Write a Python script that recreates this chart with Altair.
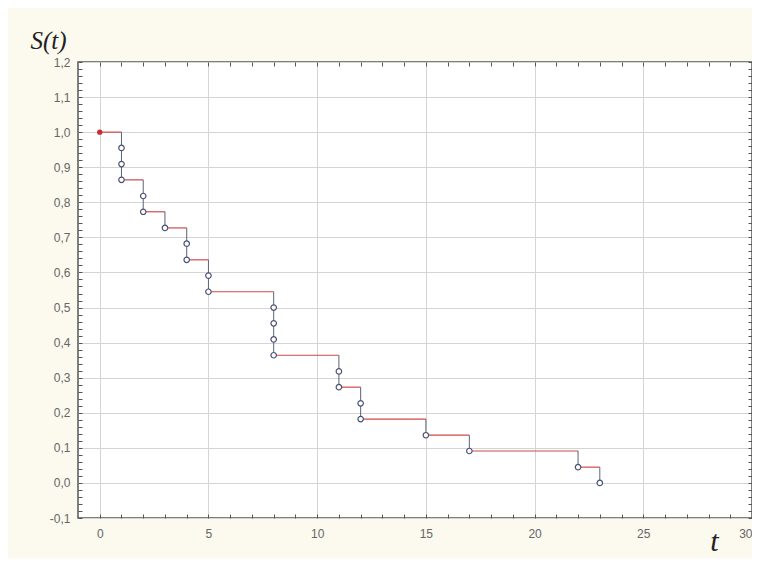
import altair as alt
import pandas as pd

# Kaplan-Meier estimate (n = 22)
times = [1, 1, 1, 2, 2, 3, 4, 4, 5, 5, 8, 8, 8, 8, 11, 11, 12, 12, 15, 17, 22, 23]
surv = [0.955, 0.909, 0.864, 0.818, 0.773, 0.727, 0.682, 0.636, 0.591, 0.545,
        0.500, 0.455, 0.409, 0.364, 0.318, 0.273, 0.227, 0.182, 0.136, 0.091,
        0.045, 0.000]
start_t = [0]
start_s = [1.0]

x_major = [0, 5, 10, 15, 20, 25, 30]
x_minor = list(range(0, 31))
y_major = [round(-0.1 + 0.1 * i, 1) for i in range(14)]
y_minor = [round(-0.1 + 0.02 * i, 2) for i in range(66)]

# step segments built from the arrays
levels = {}
for t, s in zip(times, surv):
    levels[t] = s  # last (lowest) value at each time
step_times = sorted(levels)
h_rows, v_rows = [], []
prev_t, prev_s = start_t[0], start_s[0]
for t in step_times:
    h_rows.append({"t": prev_t, "t2": t, "s": prev_s})
    v_rows.append({"t": t, "s": prev_s, "s2": levels[t]})
    prev_t, prev_s = t, levels[t]
h_df = pd.DataFrame(h_rows)
v_df = pd.DataFrame(v_rows)
pts = pd.DataFrame({"t": times, "s": surv})
start = pd.DataFrame({"t": start_t, "s": start_s})

xs = alt.Scale(domain=[-1, 30], nice=False, zero=False)
ys = alt.Scale(domain=[-0.1, 1.2], nice=False, zero=False)

label_font = "Liberation Sans"
comma = "replace(replace(format(datum.value, '.1f'), '.', ','), '\u2212', '-')"

x_main = alt.Axis(values=x_major, tickCount=200, format="d", grid=True, gridColor="#d4d4d4",
                  ticks=False, domain=False, labelFont=label_font, labelFontSize=12,
                  labelColor="#666666", labelPadding=10, labelFlush=True,
                  labelOverlap=False, labelBound=False,
                  title="t", titleFont="Liberation Serif", titleFontStyle="italic",
                  titleFontWeight="normal", titleFontSize=30, titleColor="#222222",
                  titleAngle=0, titleX=636, titleY=32, titleAlign="center",
                  titleBaseline="alphabetic", orient="bottom")
y_main = alt.Axis(values=y_major, tickCount=200, grid=True, gridColor="#d4d4d4", ticks=False,
                  domain=False, labelFont=label_font, labelFontSize=12,
                  labelColor="#666666", labelPadding=8, labelExpr=comma,
                  labelOverlap=False, labelBound=False, labelFlush=False,
                  title="S(t)", titleFont="Liberation Serif", titleFontStyle="italic",
                  titleFontWeight="normal", titleFontSize=25, titleColor="#222222",
                  titleAngle=0, titleX=-48, titleY=-14, titleAlign="left",
                  titleBaseline="alphabetic", orient="left")

h_line = alt.Chart(h_df).mark_rule(color="#cc4a4a", strokeWidth=1.2).encode(
    x=alt.X("t:Q", scale=xs, axis=x_main),
    x2="t2:Q",
    y=alt.Y("s:Q", scale=ys, axis=y_main),
)
v_line = alt.Chart(v_df).mark_rule(color="#5b6478", strokeWidth=1).encode(
    x=alt.X("t:Q", scale=xs),
    y=alt.Y("s:Q", scale=ys),
    y2="s2:Q",
)
points = alt.Chart(pts).mark_point(shape="circle", size=30, filled=False,
                                   color="#4a5272", fill="white", fillOpacity=1,
                                   strokeWidth=1.2).encode(
    x=alt.X("t:Q", scale=xs),
    y=alt.Y("s:Q", scale=ys),
)
start_pt = alt.Chart(start).mark_point(shape="circle", size=28, filled=True,
                                       color="#c23030", opacity=1).encode(
    x=alt.X("t:Q", scale=xs),
    y=alt.Y("s:Q", scale=ys),
)

base = alt.layer(h_line, v_line, points, start_pt)


def tick_layer(orient_x, orient_y):
    ax = alt.Axis(values=x_minor, tickCount=200, orient=orient_x, labels=False, grid=False,
                  domain=False, ticks=True, tickSize=4, tickColor="#555555",
                  offset=-4, title=None)
    ay = alt.Axis(values=y_minor, tickCount=200, orient=orient_y, labels=False, grid=False,
                  domain=False, ticks=True, tickSize=4, tickColor="#555555",
                  offset=-4, title=None)
    return alt.Chart(pts).mark_point(opacity=0).encode(
        x=alt.X("t:Q", scale=xs, axis=ax),
        y=alt.Y("s:Q", scale=ys, axis=ay),
    )


chart = alt.layer(base, tick_layer("bottom", "left"), tick_layer("top", "right")).resolve_axis(
    x="independent", y="independent"
).properties(
    width=674, height=456,
    autosize=alt.AutoSizeParams(type="none"),
    padding={"left": 70, "top": 54, "right": 0, "bottom": 40},
    background="#fcf9ef",
).configure_view(
    fill="white", stroke="#555555", strokeWidth=1.5
)

chart.save("out.html", embed_options={"renderer": "svg", "actions": False})
